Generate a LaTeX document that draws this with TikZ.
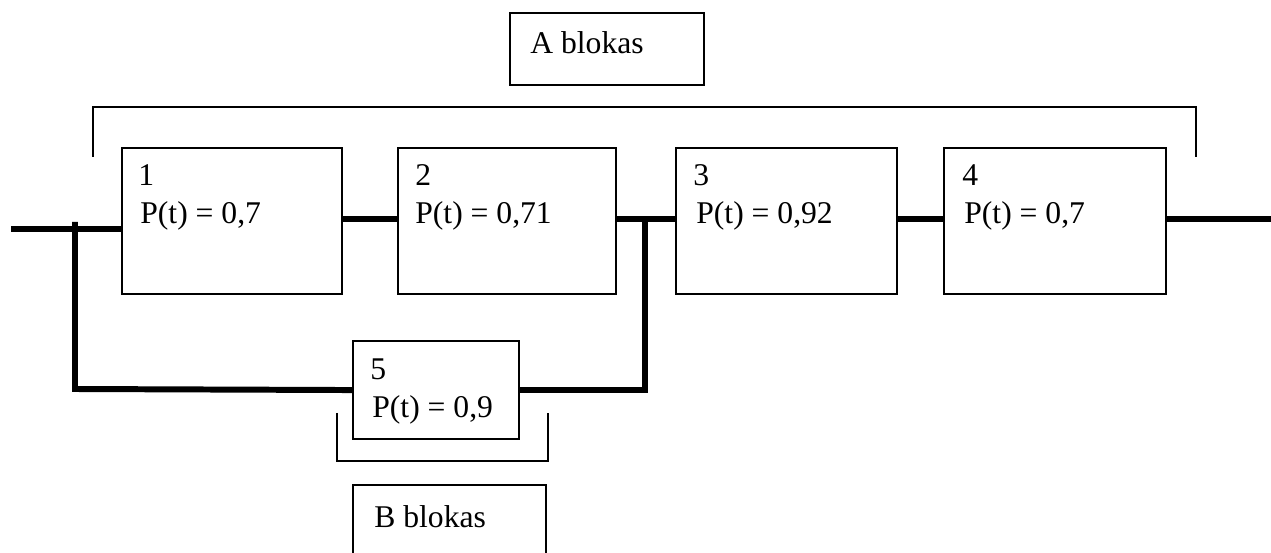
\documentclass[tikz,border=0pt]{standalone}
\usepackage{fontspec}
\setmainfont{Liberation Serif}
\begin{document}
\begin{tikzpicture}[x=0.02cm,y=-0.02cm,
  blk/.style={draw,line width=1.2pt,inner sep=0pt,anchor=north west},
  wire/.style={line width=3.4pt},
  brk/.style={line width=0.8pt},
  lbl/.style={inner sep=0pt,anchor=base west,font=\fontsize{18}{20}\selectfont}]
\useasboundingbox (0,0) rectangle (1271,553);
% reliability blocks
\node[blk,minimum width=220*0.02cm,minimum height=146*0.02cm] (b1) at (121,147) {};
\node[blk,minimum width=218*0.02cm,minimum height=146*0.02cm] (b2) at (397,147) {};
\node[blk,minimum width=221*0.02cm,minimum height=146*0.02cm] (b3) at (675,147) {};
\node[blk,minimum width=222*0.02cm,minimum height=146*0.02cm] (b4) at (943,147) {};
\node[blk,minimum width=166*0.02cm,minimum height=98*0.02cm] (b5) at (352,340) {};
% block labels
\node[lbl] (n1) at (138,186) {1};
\node[lbl] (p1) at (140,224) {P(t) = 0,7};
\node[lbl] (n2) at (415,186) {2};
\node[lbl] (p2) at (415,224) {P(t) = 0,71};
\node[lbl] (n3) at (693,186) {3};
\node[lbl] (p3) at (696,224) {P(t) = 0,92};
\node[lbl] (n4) at (962,186) {4};
\node[lbl] (p4) at (964,224) {P(t) = 0,7};
\node[lbl] (n5) at (370,380) {5};
\node[lbl] (p5) at (372,418) {P(t) = 0,9};
% group captions
\node[blk,minimum width=194*0.02cm,minimum height=72*0.02cm] (ca) at (509,12) {};
\node[lbl] (ta) at (530,54) {A blokas};
\node[lbl] (tb) at (374,527) {B blokas};
\draw[line width=1.2pt] (353,560) coordinate (bl) -- (353,485) -- (546,485) -- (546,560) coordinate (br);
% group brackets
\draw[brk] (93,157) coordinate (al) -- (93,107) -- (1196,107) -- (1196,157) coordinate (ar);
\draw[brk] (337,413) coordinate (bla) -- (337,461) -- (548,461) -- (548,413) coordinate (bra);
% wiring
\coordinate (in) at (11,229);
\coordinate (j1) at (75,229);
\coordinate (j2) at (645,219);
\coordinate (out) at (1271,219);
\draw[wire] (in) -- (b1.west |- in);
\draw[wire] (75,222) -- (75,389) -- (b5.west);
\draw[wire] (b1.east |- j2) -- (b2.west |- j2);
\draw[wire] (b2.east |- j2) -- (b3.west |- j2);
\draw[wire] (b5.east) -- (j2 |- b5.east) -- (j2);
\draw[wire] (b3.east |- j2) -- (b4.west |- j2);
\draw[wire] (b4.east |- out) -- (out);
\end{tikzpicture}
\end{document}
